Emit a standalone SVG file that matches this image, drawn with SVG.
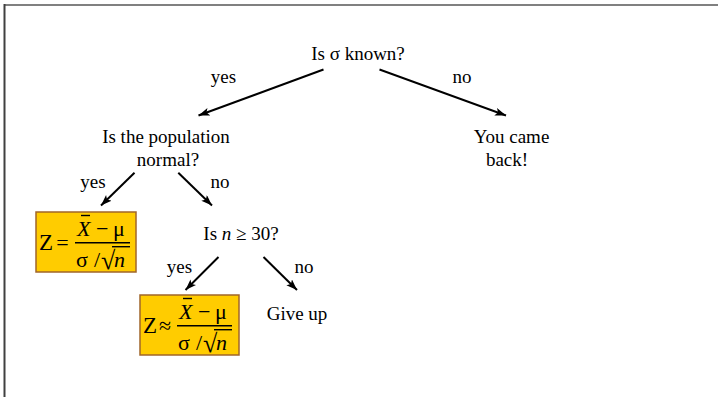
<svg xmlns="http://www.w3.org/2000/svg" width="719" height="397" viewBox="0 0 719 397">
<defs>
<style>
.t{font-family:"Liberation Serif","Times New Roman",serif;font-size:19px;fill:#000;text-anchor:middle}
.m{font-family:"Liberation Serif","Times New Roman",serif;font-size:22px;fill:#000}
.i{font-style:italic}
.box{fill:#FFCC00;stroke:#A0662A;stroke-width:1.5}
.ln{stroke:#000;stroke-width:1.4}
.arr{stroke:#000;stroke-width:2;fill:none;marker-end:url(#ah)}
</style>
<marker id="ah" markerUnits="userSpaceOnUse" markerWidth="12" markerHeight="10" refX="11" refY="4" orient="auto">
<path d="M0,0 L11,4 L0,8 L2.5,4 z" fill="#000"/>
</marker>
</defs>
<rect width="719" height="397" fill="#fff"/>
<g id="frame">
<line x1="4" y1="5" x2="718" y2="5" stroke="#808080" stroke-width="2"/>
<line x1="4.5" y1="4" x2="4.5" y2="397" stroke="#404040" stroke-width="2"/>
</g>
<g id="connectors">
<line class="arr" x1="323.5" y1="69.5" x2="198.5" y2="115.5"/>
<line class="arr" x1="379.5" y1="69.5" x2="506" y2="115.5"/>
<line class="arr" x1="134.5" y1="172.7" x2="101" y2="205.5"/>
<line class="arr" x1="178.3" y1="172.7" x2="212" y2="205.5"/>
<line class="arr" x1="218.5" y1="257" x2="185.5" y2="290"/>
<line class="arr" x1="263.5" y1="257" x2="297" y2="290"/>
</g>
<g id="labels">
<text class="t" x="223.5" y="83">yes</text>
<text class="t" x="462" y="83">no</text>
<text class="t" x="93" y="188">yes</text>
<text class="t" x="220" y="188">no</text>
<text class="t" x="179.5" y="273">yes</text>
<text class="t" x="304" y="273">no</text>
</g>
<g id="node-sigma">
<text class="t" x="358" y="59.5">Is σ known?</text>
</g>
<g id="node-normal">
<text class="t" x="166" y="143">Is the population</text>
<text class="t" x="168" y="165.5">normal?</text>
</g>
<g id="node-came-back">
<text class="t" x="511.5" y="143">You came</text>
<text class="t" x="507" y="165.5">back!</text>
</g>
<g id="node-n30">
<text class="t" x="241" y="240">Is <tspan class="i">n</tspan> ≥ 30?</text>
</g>
<g id="node-giveup">
<text class="t" x="297" y="320">Give up</text>
</g>
<g id="node-z-exact" transform="translate(36,212)">
<rect class="box" x="0" y="0" width="100" height="60"/>
<text class="m" x="3" y="37.5" style="font-size:23px">Z</text>
<text class="m" x="26.5" y="37.5" text-anchor="middle">=</text>
<text class="m i" x="41" y="23.5">X</text>
<line class="ln" x1="45" y1="3.5" x2="54" y2="3.5"/>
<text class="m" x="60" y="23.5">−</text>
<text class="m" x="77" y="23.5">μ</text>
<line class="ln" x1="39" y1="30.7" x2="94" y2="30.7"/>
<text class="m" x="40" y="54.5">σ</text>
<text class="m" x="58" y="54.5">/</text>
<text class="m" x="65" y="57" style="font-size:26px">√</text>
<line class="ln" x1="76" y1="34.7" x2="94" y2="34.7"/>
<text class="m i" x="78" y="54.5">n</text>
</g>
<g id="node-z-approx" transform="translate(140,295)">
<rect class="box" x="0" y="0" width="99" height="60"/>
<text class="m" x="3" y="37.5" style="font-size:23px">Z</text>
<text class="m" x="25" y="37.5" text-anchor="middle">≈</text>
<text class="m i" x="39" y="23.5">X</text>
<line class="ln" x1="43" y1="3.5" x2="52" y2="3.5"/>
<text class="m" x="58" y="23.5">−</text>
<text class="m" x="75" y="23.5">μ</text>
<line class="ln" x1="37" y1="30.7" x2="92" y2="30.7"/>
<text class="m" x="38" y="54.5">σ</text>
<text class="m" x="56" y="54.5">/</text>
<text class="m" x="63" y="57" style="font-size:26px">√</text>
<line class="ln" x1="74" y1="34.7" x2="92" y2="34.7"/>
<text class="m i" x="76" y="54.5">n</text>
</g>
</svg>
